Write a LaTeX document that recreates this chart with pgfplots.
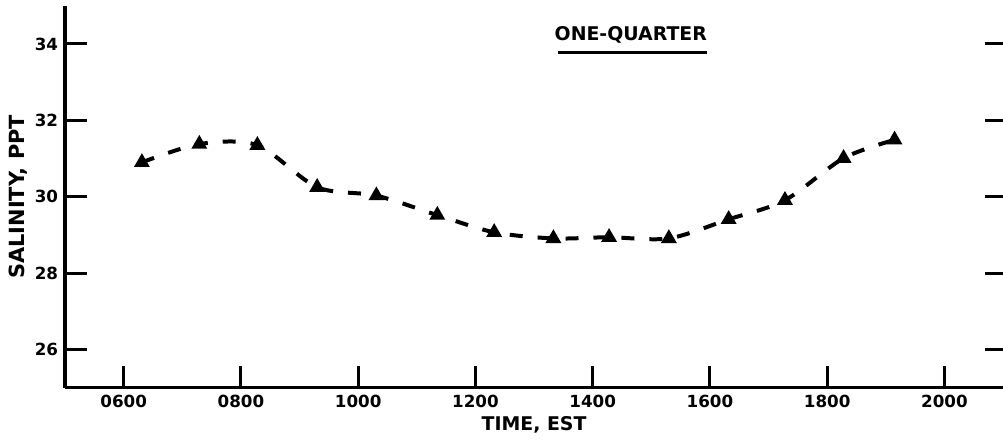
\documentclass[border=0pt]{standalone}
\usepackage{pgfplots}
\pgfplotsset{compat=1.18}
\usepackage{fontspec}
\setmainfont{DejaVu Sans}
\begin{document}
\begin{tikzpicture}
\begin{axis}[
  scale only axis, width=469.6bp, height=191.25bp,
  xmin=5, xmax=21, ymin=25, ymax=35,
  axis x line*=bottom, axis y line*=left,
  axis line style={line width=1.7bp},
  xtick={6,8,...,20},
  xticklabels={0600,0800,1000,1200,1400,1600,1800,2000},
  ytick={26,28,...,34},
  tick align=inside,
  major tick length=11bp,
  every tick/.style={black, line width=1.5bp},
  tick label style={font=\fontsize{8.4}{9}\selectfont\bfseries},
  /pgf/number format/assume math mode=true,
  xlabel={TIME, EST}, ylabel={SALINITY, PPT},
  xlabel style={at={(axis description cs:0.5,-0.0967)}, anchor=center, font=\fontsize{9.5}{10}\selectfont\bfseries},
  ylabel style={at={(axis description cs:-0.0503,0.5)}, anchor=center, font=\fontsize{10.5}{11}\selectfont\bfseries},
  clip=false,
]
\addplot[black, line width=2bp, dash pattern=on 6.5bp off 7.5bp, smooth, tension=0.5,
  mark=triangle*, mark size=2.6bp, mark options={solid, fill=black}] coordinates {
  (6.31,30.90) (7.29,31.38) (8.28,31.35) (9.30,30.25) (10.31,30.03)
  (11.35,29.52) (12.32,29.07) (13.33,28.91) (14.28,28.94) (15.30,28.91)
  (16.32,29.41) (17.28,29.91) (18.28,31.01) (19.15,31.49)
};
\node[font=\fontsize{9.5}{10}\selectfont\bfseries] at (axis cs:14.65,34.25) {ONE-QUARTER};
\draw[line width=1.4bp] (axis cs:13.41,33.77) -- (axis cs:15.95,33.77);
\coordinate (SW) at (rel axis cs:0,0);
\coordinate (NE) at (rel axis cs:1,1);
\end{axis}
\begin{axis}[
  scale only axis, width=469.6bp, height=191.25bp,
  xmin=5, xmax=21, ymin=25, ymax=35,
  axis x line=none, axis y line*=right,
  y axis line style={draw=none},
  ytick={26,28,...,34}, yticklabels={},
  tick align=inside,
  major tick length=9bp,
  every tick/.style={black, line width=1.5bp},
]
\end{axis}
\pgfresetboundingbox
\path ([shift={(-32.6bp,-27.9bp)}]SW) rectangle ([shift={(0bp,2.9bp)}]NE);
\end{tikzpicture}
\end{document}
